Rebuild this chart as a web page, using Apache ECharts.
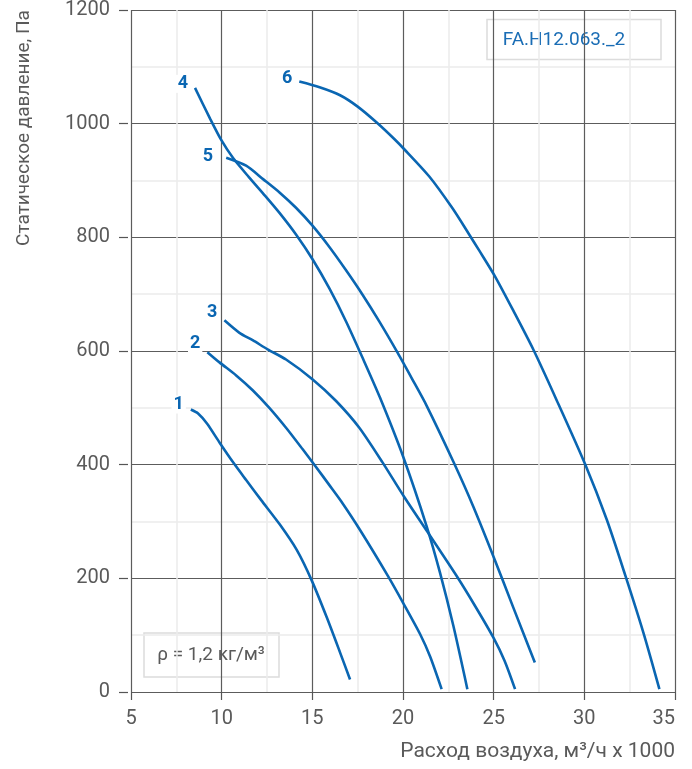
<!DOCTYPE html>
<html>
<head>
<meta charset="utf-8">
<script src="https://cdn.jsdelivr.net/npm/echarts@6/dist/echarts.min.js"></script>
<style>
html,body{margin:0;padding:0;background:#fff;}
#chart{width:692px;height:769px;}
</style>
</head>
<body>
<div id="chart"></div>
<script>
// ---- data ----
const xTicks = [5, 10, 15, 20, 25, 30, 35];
const yTicks = [0, 200, 400, 600, 800, 1000, 1200];
const curveNames = ['1', '2', '3', '4', '5', '6'];
const curve1 = [[8.3,497],[8.7,490],[9.2,472],[9.88,439],[10.61,405],[11.35,373],[12.17,338],[13.2,295],[14.14,250],[14.97,196],[15.8,131],[16.5,72],[17.08,22]];
const curve2 = [[9.21,598],[9.88,580],[10.8,557],[11.71,531],[12.63,500],[13.55,465],[14.47,427],[15.11,400],[15.94,364],[16.58,336],[17.63,285],[19.19,203],[20.02,156],[20.94,102],[21.5,62],[22.13,5]];
const curve3 = [[10.15,654],[10.98,632],[11.71,619],[12.53,603],[13.55,585],[15.02,550],[16.31,512],[17.59,465],[18.87,404],[20.07,343],[21.3,284],[22.96,204],[24.0,150],[24.98,96],[25.6,55],[26.18,5]];
const curve4 = [[8.53,1063],[9.36,1009],[10.0,970],[10.64,939],[11.5,906],[12.4,873],[13.19,843],[14.1,805],[15.02,761],[15.94,710],[16.86,652],[17.77,588],[18.73,518],[20.02,413],[21.3,292],[22.04,210],[22.78,116],[23.55,5]];
const curve5 = [[10.25,940],[11.35,926],[12.3,902],[13.19,879],[14.1,852],[15.02,820],[15.94,783],[16.86,742],[17.77,699],[18.69,652],[19.7,597],[20.5,551],[21.3,504],[22.78,405],[23.88,326],[25.08,231],[26.09,148],[27.27,52]];
const curve6 = [[14.28,1074],[15.4,1064],[16.53,1050],[17.5,1030],[18.55,1002],[19.52,973],[20.07,955],[21.45,907],[22.73,851],[23.65,805],[24.2,777],[25.08,731],[26.1,670],[27.18,603],[28.48,513],[30.04,401],[31.24,303],[32.25,206],[33.26,104],[34.14,5]];
const xAxisTitle = 'Расход воздуха, м³/ч x 1000';
const yAxisTitle = 'Статическое давление, Па';
const modelText = 'FA.H12.063._2';
const densityText = 'ρ = 1,2 кг/м³';

// ---- styles ----
const BLUE = '#0a66b2';
const FONT = 'Roboto, "Noto Sans", sans-serif';
const labelOffsets = [[0,-5],[0,-9],[0,-8],[0,-4],[-6,-1],[0,-3]];
const curves = [curve1, curve2, curve3, curve4, curve5, curve6];

const series = curves.map((c, i) => ({
  type: 'line',
  name: curveNames[i],
  smooth: 0.25,
  symbol: 'circle',
  symbolSize: 0.01,
  showSymbol: true,
  showAllSymbol: true,
  lineStyle: { color: BLUE, width: 2.6 },
  itemStyle: { color: BLUE },
  z: 3,
  data: c.map((p, j) => j === 0 ? {
    value: p,
    label: {
      show: true,
      formatter: curveNames[i],
      position: 'left',
      distance: 5,
      offset: labelOffsets[i],
      color: BLUE,
      fontFamily: FONT,
      fontWeight: 'bold',
      fontSize: 18,
      backgroundColor: '#fff',
      padding: [0, 2, 0, 2]
    }
  } : p)
}));

const chart = echarts.init(document.getElementById('chart'), null, { renderer: 'canvas' });
chart.setOption({
  animation: false,
  backgroundColor: '#fff',
  grid: { left: 131, right: 17, top: 8, bottom: 77, containLabel: false },
  xAxis: {
    type: 'value',
    min: xTicks[0], max: xTicks[xTicks.length - 1], interval: 5,
    offset: 3,
    axisLine: { show: false },
    axisTick: { show: true, length: 8, lineStyle: { color: '#555', width: 1.2 } },
    axisLabel: { color: '#5a5a5a', fontSize: 20, fontFamily: FONT, margin: 14, alignMaxLabel: 'right',
      formatter: v => String(v) },
    splitLine: { show: true, lineStyle: { color: '#5c5c5c', width: 1.2 } },
    minorTick: { show: false, splitNumber: 2 },
    minorSplitLine: { show: true, lineStyle: { color: '#ececec', width: 1.5 } }
  },
  yAxis: {
    type: 'value',
    min: yTicks[0], max: yTicks[yTicks.length - 1], interval: 200,
    offset: 3,
    axisLine: { show: false },
    axisTick: { show: true, length: 9, lineStyle: { color: '#555', width: 1.2 } },
    axisLabel: { color: '#5a5a5a', fontSize: 20, fontFamily: FONT, margin: 18,
      formatter: v => String(v) },
    splitLine: { show: true, lineStyle: { color: '#5c5c5c', width: 1.2 } },
    minorTick: { show: false, splitNumber: 2 },
    minorSplitLine: { show: true, lineStyle: { color: '#ececec', width: 1.5 } }
  },
  graphic: [
    {
      type: 'text', right: 17, top: 741, z: 10,
      style: { text: xAxisTitle, fill: '#5a5a5a', font: '21px ' + FONT, textAlign: 'right' }
    },
    {
      type: 'text', x: 24, y: 128, rotation: Math.PI / 2, z: 10,
      style: { text: yAxisTitle, fill: '#5a5a5a', font: '19px ' + FONT, textAlign: 'center', textVerticalAlign: 'middle' }
    },
    {
      type: 'group', z: 10,
      children: [
        { type: 'rect', shape: { x: 487, y: 19.5, width: 174, height: 40 },
          style: { fill: '#fff', stroke: '#dcdcdc', lineWidth: 1.5 } },
        { type: 'text', x: 564, y: 40,
          style: { text: modelText, fill: '#1a6db5', font: '19px ' + FONT, textAlign: 'center', textVerticalAlign: 'middle' } }
      ]
    },
    {
      type: 'group', z: 10,
      children: [
        { type: 'rect', shape: { x: 144, y: 633, width: 135, height: 44 },
          style: { fill: '#fff', stroke: '#dcdcdc', lineWidth: 1.5 } },
        { type: 'text', x: 211, y: 655,
          style: { text: densityText, fill: '#5a5a5a', font: '19px ' + FONT, textAlign: 'center', textVerticalAlign: 'middle' } }
      ]
    }
  ],
  series: series
});
</script>
</body>
</html>
